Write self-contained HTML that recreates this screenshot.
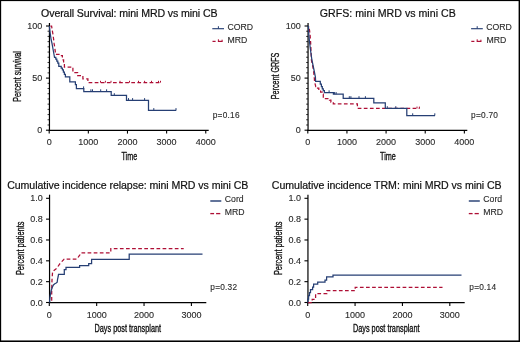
<!DOCTYPE html>
<html><head><meta charset="utf-8"><style>
html,body{margin:0;padding:0;background:#fff;width:520px;height:342px;overflow:hidden;}
svg{display:block;font-family:"Liberation Sans",sans-serif;}
text{filter:grayscale(1);}
</style></head><body>
<svg width="520" height="342" viewBox="0 0 520 342" font-family="Liberation Sans, sans-serif">
<rect x="0" y="0" width="520" height="342" fill="#fff"/>
<line x1="49.45" y1="23" x2="49.45" y2="130.9" stroke="#000" stroke-width="1.2"/>
<line x1="48.85" y1="130.3" x2="208.7" y2="130.3" stroke="#000" stroke-width="1.2"/>
<line x1="45.95" y1="26" x2="49.45" y2="26" stroke="#000" stroke-width="1.1"/>
<line x1="45.95" y1="78.1" x2="49.45" y2="78.1" stroke="#000" stroke-width="1.1"/>
<line x1="45.95" y1="130.2" x2="49.45" y2="130.2" stroke="#000" stroke-width="1.1"/>
<line x1="47.55" y1="124.99" x2="49.45" y2="124.99" stroke="#000" stroke-width="0.8"/>
<line x1="47.55" y1="119.78" x2="49.45" y2="119.78" stroke="#000" stroke-width="0.8"/>
<line x1="47.55" y1="114.57" x2="49.45" y2="114.57" stroke="#000" stroke-width="0.8"/>
<line x1="47.55" y1="109.36" x2="49.45" y2="109.36" stroke="#000" stroke-width="0.8"/>
<line x1="47.55" y1="104.15" x2="49.45" y2="104.15" stroke="#000" stroke-width="0.8"/>
<line x1="47.55" y1="98.94" x2="49.45" y2="98.94" stroke="#000" stroke-width="0.8"/>
<line x1="47.55" y1="93.73" x2="49.45" y2="93.73" stroke="#000" stroke-width="0.8"/>
<line x1="47.55" y1="88.52" x2="49.45" y2="88.52" stroke="#000" stroke-width="0.8"/>
<line x1="47.55" y1="83.31" x2="49.45" y2="83.31" stroke="#000" stroke-width="0.8"/>
<line x1="47.55" y1="72.89" x2="49.45" y2="72.89" stroke="#000" stroke-width="0.8"/>
<line x1="47.55" y1="67.68" x2="49.45" y2="67.68" stroke="#000" stroke-width="0.8"/>
<line x1="47.55" y1="62.47" x2="49.45" y2="62.47" stroke="#000" stroke-width="0.8"/>
<line x1="47.55" y1="57.26" x2="49.45" y2="57.26" stroke="#000" stroke-width="0.8"/>
<line x1="47.55" y1="52.05" x2="49.45" y2="52.05" stroke="#000" stroke-width="0.8"/>
<line x1="47.55" y1="46.84" x2="49.45" y2="46.84" stroke="#000" stroke-width="0.8"/>
<line x1="47.55" y1="41.63" x2="49.45" y2="41.63" stroke="#000" stroke-width="0.8"/>
<line x1="47.55" y1="36.42" x2="49.45" y2="36.42" stroke="#000" stroke-width="0.8"/>
<line x1="47.55" y1="31.21" x2="49.45" y2="31.21" stroke="#000" stroke-width="0.8"/>
<line x1="49.2" y1="130.3" x2="49.2" y2="133.6" stroke="#000" stroke-width="1.1"/>
<line x1="88.34" y1="130.3" x2="88.34" y2="133.6" stroke="#000" stroke-width="1.1"/>
<line x1="127.48" y1="130.3" x2="127.48" y2="133.6" stroke="#000" stroke-width="1.1"/>
<line x1="166.62" y1="130.3" x2="166.62" y2="133.6" stroke="#000" stroke-width="1.1"/>
<line x1="205.76" y1="130.3" x2="205.76" y2="133.6" stroke="#000" stroke-width="1.1"/>
<text x="42.2" y="29" font-size="9.0" text-anchor="end" fill="#2a2a2a" stroke="#2a2a2a" stroke-width="0.12">100</text>
<text x="42.2" y="81.1" font-size="9.0" text-anchor="end" fill="#2a2a2a" stroke="#2a2a2a" stroke-width="0.12">50</text>
<text x="42.2" y="133.2" font-size="9.0" text-anchor="end" fill="#2a2a2a" stroke="#2a2a2a" stroke-width="0.12">0</text>
<text x="49.2" y="145" font-size="9.0" text-anchor="middle" fill="#2a2a2a" stroke="#2a2a2a" stroke-width="0.12">0</text>
<text x="88.34" y="145" font-size="9.0" text-anchor="middle" fill="#2a2a2a" stroke="#2a2a2a" stroke-width="0.12">1000</text>
<text x="127.48" y="145" font-size="9.0" text-anchor="middle" fill="#2a2a2a" stroke="#2a2a2a" stroke-width="0.12">2000</text>
<text x="166.62" y="145" font-size="9.0" text-anchor="middle" fill="#2a2a2a" stroke="#2a2a2a" stroke-width="0.12">3000</text>
<text x="205.76" y="145" font-size="9.0" text-anchor="middle" fill="#2a2a2a" stroke="#2a2a2a" stroke-width="0.12">4000</text>
<text x="129.3" y="16.8" font-size="10.6" text-anchor="middle" fill="#111111" stroke="#111111" stroke-width="0.2" textLength="176.5" lengthAdjust="spacing">Overall Survival: mini MRD vs mini CB</text>
<text x="129.3" y="159.8" font-size="11" text-anchor="middle" fill="#111111" stroke="#111111" stroke-width="0.35" textLength="15.8" lengthAdjust="spacingAndGlyphs">Time</text>
<text x="20.8" y="76.5" font-size="11" text-anchor="middle" fill="#111111" stroke="#111111" stroke-width="0.35" textLength="50.5" lengthAdjust="spacingAndGlyphs" transform="rotate(-90 20.8 76.5)">Percent survival</text>
<line x1="308.05" y1="23" x2="308.05" y2="130.9" stroke="#000" stroke-width="1.2"/>
<line x1="307.45" y1="130.3" x2="467.3" y2="130.3" stroke="#000" stroke-width="1.2"/>
<line x1="304.55" y1="26" x2="308.05" y2="26" stroke="#000" stroke-width="1.1"/>
<line x1="304.55" y1="78.1" x2="308.05" y2="78.1" stroke="#000" stroke-width="1.1"/>
<line x1="304.55" y1="130.2" x2="308.05" y2="130.2" stroke="#000" stroke-width="1.1"/>
<line x1="306.15" y1="124.99" x2="308.05" y2="124.99" stroke="#000" stroke-width="0.8"/>
<line x1="306.15" y1="119.78" x2="308.05" y2="119.78" stroke="#000" stroke-width="0.8"/>
<line x1="306.15" y1="114.57" x2="308.05" y2="114.57" stroke="#000" stroke-width="0.8"/>
<line x1="306.15" y1="109.36" x2="308.05" y2="109.36" stroke="#000" stroke-width="0.8"/>
<line x1="306.15" y1="104.15" x2="308.05" y2="104.15" stroke="#000" stroke-width="0.8"/>
<line x1="306.15" y1="98.94" x2="308.05" y2="98.94" stroke="#000" stroke-width="0.8"/>
<line x1="306.15" y1="93.73" x2="308.05" y2="93.73" stroke="#000" stroke-width="0.8"/>
<line x1="306.15" y1="88.52" x2="308.05" y2="88.52" stroke="#000" stroke-width="0.8"/>
<line x1="306.15" y1="83.31" x2="308.05" y2="83.31" stroke="#000" stroke-width="0.8"/>
<line x1="306.15" y1="72.89" x2="308.05" y2="72.89" stroke="#000" stroke-width="0.8"/>
<line x1="306.15" y1="67.68" x2="308.05" y2="67.68" stroke="#000" stroke-width="0.8"/>
<line x1="306.15" y1="62.47" x2="308.05" y2="62.47" stroke="#000" stroke-width="0.8"/>
<line x1="306.15" y1="57.26" x2="308.05" y2="57.26" stroke="#000" stroke-width="0.8"/>
<line x1="306.15" y1="52.05" x2="308.05" y2="52.05" stroke="#000" stroke-width="0.8"/>
<line x1="306.15" y1="46.84" x2="308.05" y2="46.84" stroke="#000" stroke-width="0.8"/>
<line x1="306.15" y1="41.63" x2="308.05" y2="41.63" stroke="#000" stroke-width="0.8"/>
<line x1="306.15" y1="36.42" x2="308.05" y2="36.42" stroke="#000" stroke-width="0.8"/>
<line x1="306.15" y1="31.21" x2="308.05" y2="31.21" stroke="#000" stroke-width="0.8"/>
<line x1="307.8" y1="130.3" x2="307.8" y2="133.6" stroke="#000" stroke-width="1.1"/>
<line x1="346.94" y1="130.3" x2="346.94" y2="133.6" stroke="#000" stroke-width="1.1"/>
<line x1="386.08" y1="130.3" x2="386.08" y2="133.6" stroke="#000" stroke-width="1.1"/>
<line x1="425.22" y1="130.3" x2="425.22" y2="133.6" stroke="#000" stroke-width="1.1"/>
<line x1="464.36" y1="130.3" x2="464.36" y2="133.6" stroke="#000" stroke-width="1.1"/>
<text x="300.8" y="29" font-size="9.0" text-anchor="end" fill="#2a2a2a" stroke="#2a2a2a" stroke-width="0.12">100</text>
<text x="300.8" y="81.1" font-size="9.0" text-anchor="end" fill="#2a2a2a" stroke="#2a2a2a" stroke-width="0.12">50</text>
<text x="300.8" y="133.2" font-size="9.0" text-anchor="end" fill="#2a2a2a" stroke="#2a2a2a" stroke-width="0.12">0</text>
<text x="307.8" y="145" font-size="9.0" text-anchor="middle" fill="#2a2a2a" stroke="#2a2a2a" stroke-width="0.12">0</text>
<text x="346.94" y="145" font-size="9.0" text-anchor="middle" fill="#2a2a2a" stroke="#2a2a2a" stroke-width="0.12">1000</text>
<text x="386.08" y="145" font-size="9.0" text-anchor="middle" fill="#2a2a2a" stroke="#2a2a2a" stroke-width="0.12">2000</text>
<text x="425.22" y="145" font-size="9.0" text-anchor="middle" fill="#2a2a2a" stroke="#2a2a2a" stroke-width="0.12">3000</text>
<text x="464.36" y="145" font-size="9.0" text-anchor="middle" fill="#2a2a2a" stroke="#2a2a2a" stroke-width="0.12">4000</text>
<text x="387.75" y="16.8" font-size="10.6" text-anchor="middle" fill="#111111" stroke="#111111" stroke-width="0.2" textLength="136" lengthAdjust="spacing">GRFS: mini MRD vs mini CB</text>
<text x="387.9" y="159.8" font-size="11" text-anchor="middle" fill="#111111" stroke="#111111" stroke-width="0.35" textLength="15.8" lengthAdjust="spacingAndGlyphs">Time</text>
<text x="279.4" y="75.9" font-size="11" text-anchor="middle" fill="#111111" stroke="#111111" stroke-width="0.35" textLength="46.6" lengthAdjust="spacingAndGlyphs" transform="rotate(-90 279.4 75.9)">Percent GRFS</text>
<line x1="49.55" y1="194.7" x2="49.55" y2="303.2" stroke="#000" stroke-width="1.2"/>
<line x1="48.95" y1="302.6" x2="206.3" y2="302.6" stroke="#000" stroke-width="1.2"/>
<line x1="46.05" y1="302.5" x2="49.55" y2="302.5" stroke="#000" stroke-width="1.1"/>
<line x1="46.05" y1="281.66" x2="49.55" y2="281.66" stroke="#000" stroke-width="1.1"/>
<line x1="46.05" y1="260.82" x2="49.55" y2="260.82" stroke="#000" stroke-width="1.1"/>
<line x1="46.05" y1="239.98" x2="49.55" y2="239.98" stroke="#000" stroke-width="1.1"/>
<line x1="46.05" y1="219.14" x2="49.55" y2="219.14" stroke="#000" stroke-width="1.1"/>
<line x1="46.05" y1="198.3" x2="49.55" y2="198.3" stroke="#000" stroke-width="1.1"/>
<line x1="49.3" y1="302.6" x2="49.3" y2="305.9" stroke="#000" stroke-width="1.1"/>
<line x1="96.67" y1="302.6" x2="96.67" y2="305.9" stroke="#000" stroke-width="1.1"/>
<line x1="144.04" y1="302.6" x2="144.04" y2="305.9" stroke="#000" stroke-width="1.1"/>
<line x1="191.41" y1="302.6" x2="191.41" y2="305.9" stroke="#000" stroke-width="1.1"/>
<text x="42.7" y="305.5" font-size="9.0" text-anchor="end" fill="#2a2a2a" stroke="#2a2a2a" stroke-width="0.12">0.0</text>
<text x="42.7" y="284.66" font-size="9.0" text-anchor="end" fill="#2a2a2a" stroke="#2a2a2a" stroke-width="0.12">0.2</text>
<text x="42.7" y="263.82" font-size="9.0" text-anchor="end" fill="#2a2a2a" stroke="#2a2a2a" stroke-width="0.12">0.4</text>
<text x="42.7" y="242.98" font-size="9.0" text-anchor="end" fill="#2a2a2a" stroke="#2a2a2a" stroke-width="0.12">0.6</text>
<text x="42.7" y="222.14" font-size="9.0" text-anchor="end" fill="#2a2a2a" stroke="#2a2a2a" stroke-width="0.12">0.8</text>
<text x="42.7" y="201.3" font-size="9.0" text-anchor="end" fill="#2a2a2a" stroke="#2a2a2a" stroke-width="0.12">1.0</text>
<text x="49.3" y="317.7" font-size="9.0" text-anchor="middle" fill="#2a2a2a" stroke="#2a2a2a" stroke-width="0.12">0</text>
<text x="96.67" y="317.7" font-size="9.0" text-anchor="middle" fill="#2a2a2a" stroke="#2a2a2a" stroke-width="0.12">1000</text>
<text x="144.04" y="317.7" font-size="9.0" text-anchor="middle" fill="#2a2a2a" stroke="#2a2a2a" stroke-width="0.12">2000</text>
<text x="191.41" y="317.7" font-size="9.0" text-anchor="middle" fill="#2a2a2a" stroke="#2a2a2a" stroke-width="0.12">3000</text>
<text x="127.75" y="188.6" font-size="10.6" text-anchor="middle" fill="#111111" stroke="#111111" stroke-width="0.2" textLength="241.2" lengthAdjust="spacing">Cumulative incidence relapse: mini MRD vs mini CB</text>
<text x="127.8" y="331.8" font-size="11" text-anchor="middle" fill="#111111" stroke="#111111" stroke-width="0.35" textLength="66.6" lengthAdjust="spacingAndGlyphs">Days post transplant</text>
<text x="23.6" y="248.3" font-size="11" text-anchor="middle" fill="#111111" stroke="#111111" stroke-width="0.35" textLength="53.6" lengthAdjust="spacingAndGlyphs" transform="rotate(-90 23.6 248.3)">Percent patients</text>
<line x1="307.95" y1="194.7" x2="307.95" y2="303.2" stroke="#000" stroke-width="1.2"/>
<line x1="307.35" y1="302.6" x2="464.7" y2="302.6" stroke="#000" stroke-width="1.2"/>
<line x1="304.45" y1="302.5" x2="307.95" y2="302.5" stroke="#000" stroke-width="1.1"/>
<line x1="304.45" y1="281.66" x2="307.95" y2="281.66" stroke="#000" stroke-width="1.1"/>
<line x1="304.45" y1="260.82" x2="307.95" y2="260.82" stroke="#000" stroke-width="1.1"/>
<line x1="304.45" y1="239.98" x2="307.95" y2="239.98" stroke="#000" stroke-width="1.1"/>
<line x1="304.45" y1="219.14" x2="307.95" y2="219.14" stroke="#000" stroke-width="1.1"/>
<line x1="304.45" y1="198.3" x2="307.95" y2="198.3" stroke="#000" stroke-width="1.1"/>
<line x1="307.7" y1="302.6" x2="307.7" y2="305.9" stroke="#000" stroke-width="1.1"/>
<line x1="355.07" y1="302.6" x2="355.07" y2="305.9" stroke="#000" stroke-width="1.1"/>
<line x1="402.44" y1="302.6" x2="402.44" y2="305.9" stroke="#000" stroke-width="1.1"/>
<line x1="449.81" y1="302.6" x2="449.81" y2="305.9" stroke="#000" stroke-width="1.1"/>
<text x="301.1" y="305.5" font-size="9.0" text-anchor="end" fill="#2a2a2a" stroke="#2a2a2a" stroke-width="0.12">0.0</text>
<text x="301.1" y="284.66" font-size="9.0" text-anchor="end" fill="#2a2a2a" stroke="#2a2a2a" stroke-width="0.12">0.2</text>
<text x="301.1" y="263.82" font-size="9.0" text-anchor="end" fill="#2a2a2a" stroke="#2a2a2a" stroke-width="0.12">0.4</text>
<text x="301.1" y="242.98" font-size="9.0" text-anchor="end" fill="#2a2a2a" stroke="#2a2a2a" stroke-width="0.12">0.6</text>
<text x="301.1" y="222.14" font-size="9.0" text-anchor="end" fill="#2a2a2a" stroke="#2a2a2a" stroke-width="0.12">0.8</text>
<text x="301.1" y="201.3" font-size="9.0" text-anchor="end" fill="#2a2a2a" stroke="#2a2a2a" stroke-width="0.12">1.0</text>
<text x="307.7" y="317.7" font-size="9.0" text-anchor="middle" fill="#2a2a2a" stroke="#2a2a2a" stroke-width="0.12">0</text>
<text x="355.07" y="317.7" font-size="9.0" text-anchor="middle" fill="#2a2a2a" stroke="#2a2a2a" stroke-width="0.12">1000</text>
<text x="402.44" y="317.7" font-size="9.0" text-anchor="middle" fill="#2a2a2a" stroke="#2a2a2a" stroke-width="0.12">2000</text>
<text x="449.81" y="317.7" font-size="9.0" text-anchor="middle" fill="#2a2a2a" stroke="#2a2a2a" stroke-width="0.12">3000</text>
<text x="386.75" y="188.6" font-size="10.6" text-anchor="middle" fill="#111111" stroke="#111111" stroke-width="0.2" textLength="229.8" lengthAdjust="spacing">Cumulative incidence TRM: mini MRD vs mini CB</text>
<text x="386.2" y="331.8" font-size="11" text-anchor="middle" fill="#111111" stroke="#111111" stroke-width="0.35" textLength="66.6" lengthAdjust="spacingAndGlyphs">Days post transplant</text>
<text x="282" y="248.3" font-size="11" text-anchor="middle" fill="#111111" stroke="#111111" stroke-width="0.35" textLength="53.6" lengthAdjust="spacingAndGlyphs" transform="rotate(-90 282 248.3)">Percent patients</text>
<line x1="212.3" y1="28.7" x2="224" y2="28.7" stroke="#263f74" stroke-width="1.15"/>
<line x1="218.4" y1="28.7" x2="218.4" y2="26.2" stroke="#263f74" stroke-width="1.0"/>
<text x="227.4" y="30.3" font-size="8.7" text-anchor="start" fill="#2a2a2a" stroke="#2a2a2a" stroke-width="0.12">CORD</text>
<line x1="212.5" y1="41.4" x2="215.6" y2="41.4" stroke="#ae0f35" stroke-width="1.25"/>
<line x1="217.9" y1="41.4" x2="222.6" y2="41.4" stroke="#ae0f35" stroke-width="1.25"/>
<line x1="218.4" y1="41.4" x2="218.4" y2="39.3" stroke="#ae0f35" stroke-width="1.0"/>
<line x1="222.1" y1="41.4" x2="222.1" y2="39.7" stroke="#ae0f35" stroke-width="1.0"/>
<text x="227.6" y="42.8" font-size="8.7" text-anchor="start" fill="#2a2a2a" stroke="#2a2a2a" stroke-width="0.12">MRD</text>
<line x1="471.1" y1="28.7" x2="482.8" y2="28.7" stroke="#263f74" stroke-width="1.15"/>
<line x1="477.2" y1="28.7" x2="477.2" y2="26.2" stroke="#263f74" stroke-width="1.0"/>
<text x="486.2" y="30.3" font-size="8.7" text-anchor="start" fill="#2a2a2a" stroke="#2a2a2a" stroke-width="0.12">CORD</text>
<line x1="471.3" y1="41.4" x2="474.4" y2="41.4" stroke="#ae0f35" stroke-width="1.25"/>
<line x1="476.7" y1="41.4" x2="481.4" y2="41.4" stroke="#ae0f35" stroke-width="1.25"/>
<line x1="477.2" y1="41.4" x2="477.2" y2="39.3" stroke="#ae0f35" stroke-width="1.0"/>
<line x1="480.9" y1="41.4" x2="480.9" y2="39.7" stroke="#ae0f35" stroke-width="1.0"/>
<text x="486.4" y="42.8" font-size="8.7" text-anchor="start" fill="#2a2a2a" stroke="#2a2a2a" stroke-width="0.12">MRD</text>
<line x1="210.3" y1="201" x2="221.3" y2="201" stroke="#263f74" stroke-width="1.45"/>
<text x="224.8" y="202.4" font-size="8.7" text-anchor="start" fill="#2a2a2a" stroke="#2a2a2a" stroke-width="0.12">Cord</text>
<line x1="210.3" y1="213.6" x2="214.1" y2="213.6" stroke="#ae0f35" stroke-width="1.3"/>
<line x1="216.1" y1="213.6" x2="220.3" y2="213.6" stroke="#ae0f35" stroke-width="1.3"/>
<text x="224.8" y="215" font-size="8.7" text-anchor="start" fill="#2a2a2a" stroke="#2a2a2a" stroke-width="0.12">MRD</text>
<line x1="468.8" y1="201" x2="479.8" y2="201" stroke="#263f74" stroke-width="1.45"/>
<text x="483.3" y="202.4" font-size="8.7" text-anchor="start" fill="#2a2a2a" stroke="#2a2a2a" stroke-width="0.12">Cord</text>
<line x1="468.8" y1="213.6" x2="472.6" y2="213.6" stroke="#ae0f35" stroke-width="1.3"/>
<line x1="474.6" y1="213.6" x2="478.8" y2="213.6" stroke="#ae0f35" stroke-width="1.3"/>
<text x="483.3" y="215" font-size="8.7" text-anchor="start" fill="#2a2a2a" stroke="#2a2a2a" stroke-width="0.12">MRD</text>
<text x="212.7" y="118" font-size="8.3" text-anchor="start" fill="#2a2a2a" stroke="#2a2a2a" stroke-width="0.12" textLength="26.8" lengthAdjust="spacing">p=0.16</text>
<text x="471.1" y="118" font-size="8.3" text-anchor="start" fill="#2a2a2a" stroke="#2a2a2a" stroke-width="0.12" textLength="26.8" lengthAdjust="spacing">p=0.70</text>
<text x="210.3" y="290" font-size="8.3" text-anchor="start" fill="#2a2a2a" stroke="#2a2a2a" stroke-width="0.12" textLength="26.8" lengthAdjust="spacing">p=0.32</text>
<text x="469.3" y="289.7" font-size="8.3" text-anchor="start" fill="#2a2a2a" stroke="#2a2a2a" stroke-width="0.12" textLength="26.8" lengthAdjust="spacing">p=0.14</text>
<polyline points="50.4,26 51.6,26 52.2,30 52.9,34 53.6,39 54.1,43.4 54.8,48 55.3,51.6 55.3,54.3 60.3,54.3 60.3,55.5 62.4,55.5 62.4,59.9 63.6,59.9 63.6,62.5 64.4,62.5 64.4,67 72.9,67 72.9,72.5 77.6,72.5 77.6,75.6 82.9,75.6 82.9,78.9 87.9,78.9 87.9,82.6 160.8,82.6" fill="none" stroke="#ae0f35" stroke-width="1.25" stroke-dasharray="3.7 2.4" stroke-linejoin="miter" stroke-linecap="butt" stroke-dashoffset="0.13"/>
<line x1="100.5" y1="82.6" x2="100.5" y2="80.8" stroke="#ae0f35" stroke-width="1.0"/>
<line x1="105.4" y1="82.6" x2="105.4" y2="80.8" stroke="#ae0f35" stroke-width="1.0"/>
<line x1="111" y1="82.6" x2="111" y2="80.8" stroke="#ae0f35" stroke-width="1.0"/>
<line x1="120" y1="82.6" x2="120" y2="80.8" stroke="#ae0f35" stroke-width="1.0"/>
<line x1="129.5" y1="82.6" x2="129.5" y2="80.8" stroke="#ae0f35" stroke-width="1.0"/>
<line x1="138.5" y1="82.6" x2="138.5" y2="80.8" stroke="#ae0f35" stroke-width="1.0"/>
<line x1="144.6" y1="82.6" x2="144.6" y2="80.8" stroke="#ae0f35" stroke-width="1.0"/>
<line x1="151.5" y1="82.6" x2="151.5" y2="80.8" stroke="#ae0f35" stroke-width="1.0"/>
<line x1="158.5" y1="82.6" x2="158.5" y2="80.8" stroke="#ae0f35" stroke-width="1.0"/>
<line x1="160.5" y1="82.6" x2="160.5" y2="80.8" stroke="#ae0f35" stroke-width="1.0"/>
<polyline points="308.8,26 309.5,30 310.1,35 310.6,42 311,50 311.4,60 313.5,70 314.3,78 314.6,82 315.8,86.6 316.8,86.6 316.8,88.2 318.8,88.2 318.8,90.2 320.6,90.2 320.6,92.2 322.3,92.2 322.3,94.2 323.3,94.2 323.3,98.6 329.5,98.6 329.5,100.2 330.9,100.2 330.9,102.2 333.3,102.2 333.3,103.9 357.4,103.9 357.4,108.4 419.6,108.4" fill="none" stroke="#ae0f35" stroke-width="1.25" stroke-dasharray="3.7 2.4" stroke-linejoin="miter" stroke-linecap="butt" stroke-dashoffset="3.24"/>
<line x1="417" y1="108.4" x2="417" y2="106.6" stroke="#ae0f35" stroke-width="1.0"/>
<line x1="419.4" y1="108.4" x2="419.4" y2="106.6" stroke="#ae0f35" stroke-width="1.0"/>
<polyline points="51.7,302.5 51.7,290 52,280 52.6,271.5 56.8,268.2 59.4,264.4 62,261.4 64.2,259 77,259 80,254.6 80.9,252.8 110.8,252.8 110.8,248.5 183.7,248.5" fill="none" stroke="#ae0f35" stroke-width="1.25" stroke-dasharray="3.7 2.4" stroke-linejoin="miter" stroke-linecap="butt" stroke-dashoffset="4.27"/>
<polyline points="307.8,302.5 312.2,302.5 312.2,299.3 315.6,299.3 315.6,293.6 326.8,293.6 326.8,290.7 355.2,290.7 355.2,287.3 442.5,287.3" fill="none" stroke="#ae0f35" stroke-width="1.25" stroke-dasharray="3.7 2.4" stroke-linejoin="miter" stroke-linecap="butt" stroke-dashoffset="5.90"/>
<polyline points="49.4,26 49.8,30 50.3,34 51.2,40 52,43.4 53,49 54.1,55 54.5,57.4 55.8,57.4 55.8,59.2 56.8,59.2 56.8,61 57.8,61 57.8,63.2 58.8,63.2 58.8,66.4 61.2,66.4 61.2,68 62.4,68 62.4,69.8 63.4,69.8 63.4,72 64.4,72 64.4,74.3 65.4,74.3 65.4,76.8 69.8,76.8 69.8,81.8 75.4,81.8 75.4,84.5 76.4,84.5 76.4,88.6 83.8,88.6 83.8,91.5 111.2,91.5 111.2,95.4 126.5,95.4 126.5,100.3 148.5,100.3 148.5,110.3 176.2,110.3" fill="none" stroke="#263f74" stroke-width="1.25" stroke-linejoin="miter" stroke-linecap="butt"/>
<line x1="83.6" y1="88.6" x2="83.6" y2="86.4" stroke="#263f74" stroke-width="1.0"/>
<line x1="90.9" y1="91.5" x2="90.9" y2="89.3" stroke="#263f74" stroke-width="1.0"/>
<line x1="92.5" y1="91.5" x2="92.5" y2="89.3" stroke="#263f74" stroke-width="1.0"/>
<line x1="100.7" y1="91.5" x2="100.7" y2="89.3" stroke="#263f74" stroke-width="1.0"/>
<line x1="106.6" y1="91.5" x2="106.6" y2="89.3" stroke="#263f74" stroke-width="1.0"/>
<line x1="114.3" y1="95.4" x2="114.3" y2="93.2" stroke="#263f74" stroke-width="1.0"/>
<line x1="128.5" y1="100.3" x2="128.5" y2="98.1" stroke="#263f74" stroke-width="1.0"/>
<line x1="132.6" y1="100.3" x2="132.6" y2="98.1" stroke="#263f74" stroke-width="1.0"/>
<line x1="144.6" y1="100.3" x2="144.6" y2="98.1" stroke="#263f74" stroke-width="1.0"/>
<line x1="153.8" y1="110.3" x2="153.8" y2="108.1" stroke="#263f74" stroke-width="1.0"/>
<line x1="176" y1="110.3" x2="176" y2="108.1" stroke="#263f74" stroke-width="1.0"/>
<polyline points="307.9,25.8 308.5,27 308.8,34 309.5,42 310.5,50 311.9,60 314,70 315.4,77 315.6,81.3 320.3,81.3 320.3,84.2 321.4,84.2 321.4,86.5 322.3,86.5 322.3,88.8 323.3,88.8 323.3,90.5 324.4,90.5 324.4,92.5 333.4,92.5 333.4,94.2 343.2,94.2 343.2,98.4 373.8,98.4 373.8,102.9 385.3,102.9 385.3,108.4 406.8,108.4 406.8,115.5 435,115.5" fill="none" stroke="#263f74" stroke-width="1.25" stroke-linejoin="miter" stroke-linecap="butt"/>
<line x1="329.1" y1="92.5" x2="329.1" y2="90.3" stroke="#263f74" stroke-width="1.0"/>
<line x1="334.4" y1="94.2" x2="334.4" y2="92" stroke="#263f74" stroke-width="1.0"/>
<line x1="336.1" y1="94.2" x2="336.1" y2="92" stroke="#263f74" stroke-width="1.0"/>
<line x1="349.3" y1="98.4" x2="349.3" y2="96.2" stroke="#263f74" stroke-width="1.0"/>
<line x1="350.9" y1="98.4" x2="350.9" y2="96.2" stroke="#263f74" stroke-width="1.0"/>
<line x1="359" y1="98.4" x2="359" y2="96.2" stroke="#263f74" stroke-width="1.0"/>
<line x1="365.4" y1="98.4" x2="365.4" y2="96.2" stroke="#263f74" stroke-width="1.0"/>
<line x1="387.3" y1="108.4" x2="387.3" y2="106.2" stroke="#263f74" stroke-width="1.0"/>
<line x1="395.8" y1="108.4" x2="395.8" y2="106.2" stroke="#263f74" stroke-width="1.0"/>
<line x1="412.7" y1="115.5" x2="412.7" y2="113.3" stroke="#263f74" stroke-width="1.0"/>
<line x1="434.8" y1="115.5" x2="434.8" y2="113.3" stroke="#263f74" stroke-width="1.0"/>
<polyline points="49.5,302.5 49.9,298 50.5,294 51.2,290.5 52.2,287.5 53.4,285 54.8,283.8 56.2,283 57.2,282.2 57.6,279 58.2,276.5 58.5,274.3 64.3,274.3 64.3,269.6 66,269.6 66,267.4 79.6,267.4 79.6,265.6 88.7,265.6 88.7,263.6 91.6,263.6 91.6,259.4 129.2,259.4 129.2,254 202.5,254" fill="none" stroke="#263f74" stroke-width="1.25" stroke-linejoin="miter" stroke-linecap="butt"/>
<polyline points="307.8,302.5 307.8,299 308.6,299 308.6,295.5 309.5,295.5 309.5,292.5 310.5,292.5 310.5,289.6 312.6,289.6 312.6,287 313.6,287 313.6,284 317.7,284 317.7,282 325,282 325,280 326.6,280 326.6,276.8 333,276.8 333,275.2 461.5,275.2" fill="none" stroke="#263f74" stroke-width="1.25" stroke-linejoin="miter" stroke-linecap="butt"/>
<rect x="0" y="0" width="1.15" height="342" fill="#000"/>
<rect x="0" y="0" width="520" height="1.1" fill="#000"/>
<rect x="518.6" y="0" width="1.4" height="342" fill="#000"/>
<rect x="0" y="340.45" width="520" height="1.55" fill="#000"/>
</svg>
</body></html>
